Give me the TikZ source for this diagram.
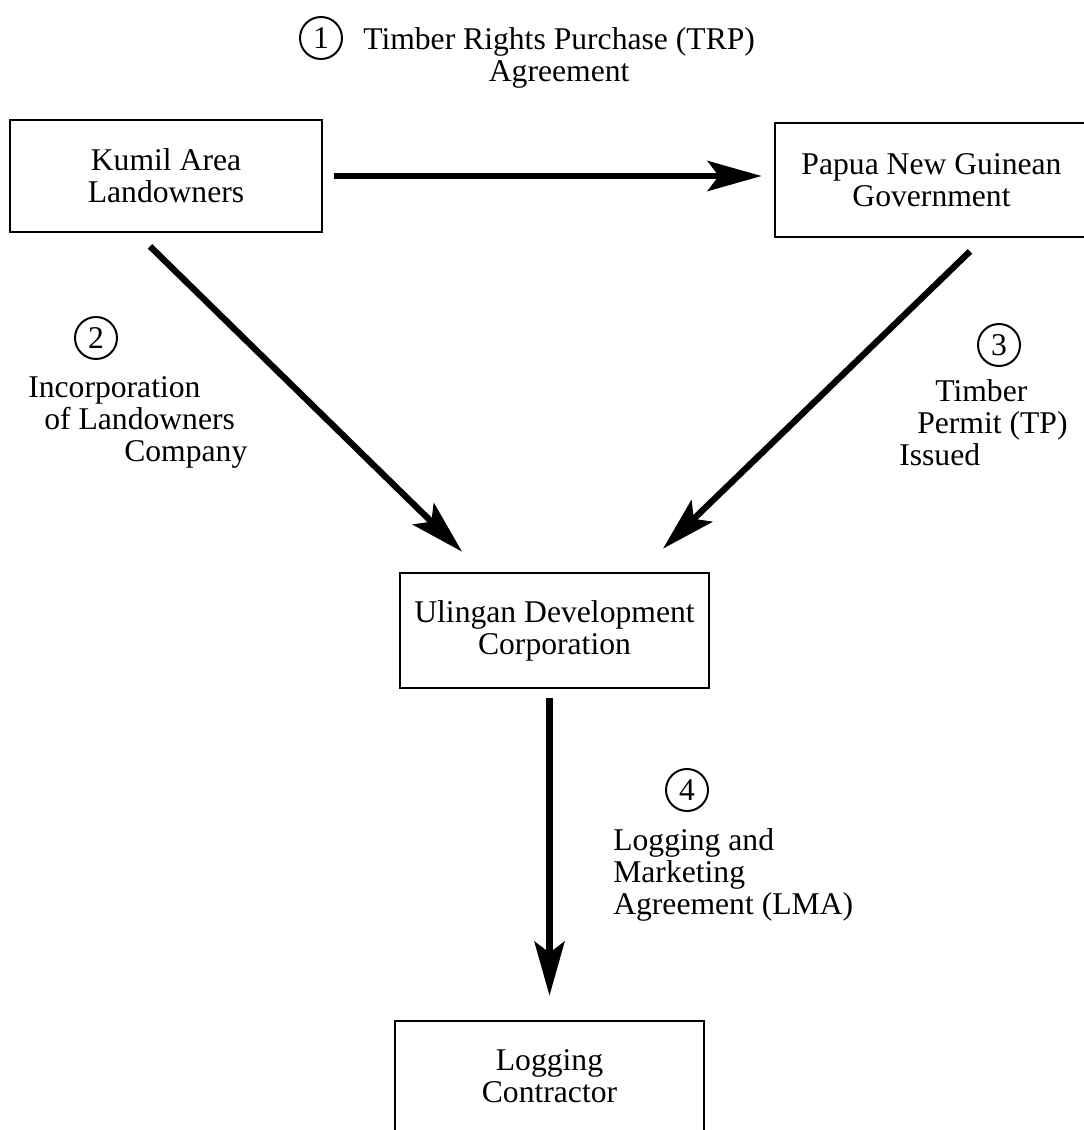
\documentclass[tikz,border=0pt]{standalone}
\usepackage{fontspec}
\setmainfont{Liberation Serif}
\usetikzlibrary{arrows.meta,calc}
\begin{document}
\begin{tikzpicture}[x=0.025cm, y=-0.025cm,
        every node/.style={font=\fontsize{22.5}{22.8}\selectfont, inner sep=0pt},
        box/.style={draw, line width=1.9pt, align=center},
        num/.style={circle, draw, line width=1.4pt, minimum size=1.05cm},
        lbl/.style={align=left, anchor=north west},
        arr/.style={line width=4.5pt, -{Stealth[length=1.35cm, width=0.75cm, inset=0.28cm]}}]
        \useasboundingbox (0,0) rectangle (1084,1130);
        \node[box, minimum width=7.8cm, minimum height=2.8cm] (kumil) at (166,176) {Kumil Area\\Landowners};
        \node[box, minimum width=7.825cm, minimum height=2.85cm] (png) at (931.5,180) {Papua New Guinean\\Government};
        \node[box, minimum width=7.725cm, minimum height=2.875cm] (ulingan) at (554.5,630.5) {Ulingan Development\\Corporation};
        \node[box, minimum width=7.725cm, minimum height=2.75cm] (logging) at (549.5,1076) {Logging\\Contractor};
        \node[num] (n1) at (321,38) {1};
        \node[align=center, anchor=north west] (trp) at (363,27) {Timber Rights Purchase (TRP)\\Agreement};
        \node[num] (n2) at (96,338) {2};
        \node[lbl] (inc) at (28,376) {Incorporation\\\hspace*{0.4cm}of Landowners\\\hspace*{2.4cm}Company};
        \node[num] (n3) at (999,345) {3};
        \node[lbl] (tp) at (899,379) {\hspace*{0.9cm}Timber\\\hspace*{0.45cm}Permit (TP)\\Issued};
        \node[num] (n4) at (687,790) {4};
        \node[lbl] (lma) at (613,828) {Logging and\\Marketing\\Agreement (LMA)};
        \draw[arr, shorten <=0.275cm, shorten >=0.3cm] (kumil.east) -- (kumil.east -| png.west);
        \draw[arr] ($(kumil.south)+(-16,13)$) -- ($(ulingan.north)+(-92.5,-20)$);
        \draw[arr] ($(png.south)+(38.5,13)$) -- ($(ulingan.north)+(108.5,-23)$);
        \draw[arr, shorten <=0.225cm, shorten >=0.6cm] (ulingan.south -| logging.north) -- (logging.north);
    \end{tikzpicture}
\end{document}
